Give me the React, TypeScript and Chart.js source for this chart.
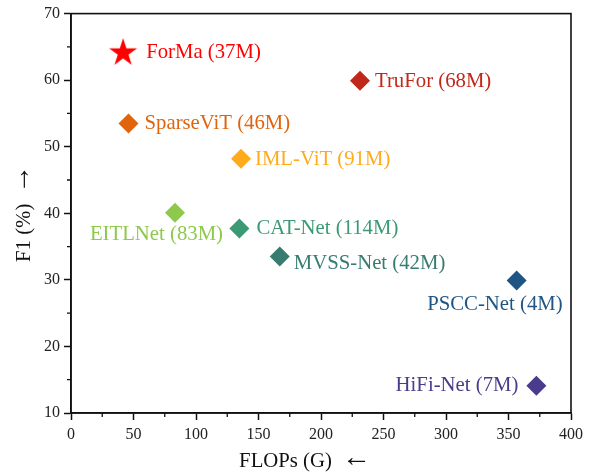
import React, { useEffect, useRef } from 'react';
import { Chart, registerables } from 'chart.js';

Chart.register(...registerables);

// ---- data ----
const models = [
  'ForMa (37M)',
  'TruFor (68M)',
  'SparseViT (46M)',
  'IML-ViT (91M)',
  'EITLNet (83M)',
  'CAT-Net (114M)',
  'MVSS-Net (42M)',
  'PSCC-Net (4M)',
  'HiFi-Net (7M)',
];
const flops = [41.7, 231.2, 46.0, 136.0, 83.2, 134.7, 167.0, 356.5, 372.3];
const f1 = [64.1, 59.9, 53.5, 48.2, 40.1, 37.7, 33.5, 29.9, 14.1];
const xTickValues = [0, 50, 100, 150, 200, 250, 300, 350, 400];
const yTickValues = [10, 20, 30, 40, 50, 60, 70];
const xTitle = 'FLOPs (G)';
const xArrow = '\u2190';
const yTitle = 'F1 (%)';
const yArrow = '\u2192';

// ---- styles ----
const colors = ['#ff0000', '#c0281a', '#df640c', '#ffab1c', '#8dc94c', '#3b9a74', '#387b70', '#1f5585', '#4a3b8c'];
const labelOffsets: [number, number, CanvasTextAlign][] = [
  [23, 0, 'left'],
  [15, 1, 'left'],
  [16, 0, 'left'],
  [14, 1, 'left'],
  [48, 22, 'right'],
  [17, 0, 'left'],
  [14, 7, 'left'],
  [46, 24, 'right'],
  [-18, 0, 'right'],
];
const FONT = '"Liberation Serif", "Times New Roman", serif';
const ARROW_FONT = '"Liberation Serif", serif';
const ARROW_SIZE = 29;

function makeStar(color: string): HTMLCanvasElement {
  const R = 14.7;
  const r = R * 0.382;
  const size = 32;
  const c = document.createElement('canvas');
  c.width = size;
  c.height = size;
  const ctx = c.getContext('2d')!;
  const cx = size / 2;
  const cy = size / 2;
  ctx.beginPath();
  for (let i = 0; i < 10; i++) {
    const rad = i % 2 === 0 ? R : r;
    const a = -Math.PI / 2 + (i * Math.PI) / 5;
    const px = cx + rad * Math.cos(a);
    const py = cy + rad * Math.sin(a);
    if (i === 0) ctx.moveTo(px, py);
    else ctx.lineTo(px, py);
  }
  ctx.closePath();
  ctx.fillStyle = color;
  ctx.fill();
  return c;
}

function drawTitleWithArrow(ctx: CanvasRenderingContext2D, text: string, arrow: string, cx: number, cy: number) {
  const gap = 10;
  ctx.font = `20.75px ${FONT}`;
  const tw = ctx.measureText(text).width;
  ctx.font = `${ARROW_SIZE}px ${ARROW_FONT}`;
  const aw = ctx.measureText(arrow).width;
  const total = tw + gap + aw;
  const x0 = cx - total / 2;
  ctx.textAlign = 'left';
  ctx.textBaseline = 'middle';
  ctx.font = `20.75px ${FONT}`;
  ctx.fillText(text, x0, cy);
  ctx.font = `${ARROW_SIZE}px ${ARROW_FONT}`;
  ctx.fillText(arrow, x0 + tw + gap, cy - 4);
}

export default function App() {
  const ref = useRef<HTMLCanvasElement>(null);

  useEffect(() => {
    const canvas = ref.current;
    if (!canvas) return;
    const star = makeStar(colors[0]);

    const labelPlugin = {
      id: 'pointLabels',
      afterDatasetsDraw(chart: any) {
        const ctx = chart.ctx;
        ctx.save();
        ctx.font = `20.75px ${FONT}`;
        ctx.textBaseline = 'middle';
        chart.data.datasets.forEach((ds: any, i: number) => {
          const meta = chart.getDatasetMeta(i);
          const pt = meta.data[0];
          if (!pt) return;
          const [dx, dy, align] = labelOffsets[i];
          ctx.fillStyle = colors[i];
          ctx.textAlign = align;
          ctx.fillText(models[i], pt.x + dx, pt.y + dy);
        });
        ctx.restore();
      },
    };

    const framePlugin = {
      id: 'frame',
      afterDraw(chart: any) {
        const { ctx, chartArea: a, scales } = chart;
        ctx.save();
        ctx.strokeStyle = '#111';
        ctx.lineWidth = 1.6;
        ctx.strokeRect(a.left, a.top, a.right - a.left, a.bottom - a.top);
        // minor ticks
        ctx.lineWidth = 1.3;
        ctx.beginPath();
        for (let i = 0; i < xTickValues.length - 1; i++) {
          const v = (xTickValues[i] + xTickValues[i + 1]) / 2;
          const px = scales.x.getPixelForValue(v);
          ctx.moveTo(px, a.bottom);
          ctx.lineTo(px, a.bottom + 4);
        }
        for (let i = 0; i < yTickValues.length - 1; i++) {
          const v = (yTickValues[i] + yTickValues[i + 1]) / 2;
          const py = scales.y.getPixelForValue(v);
          ctx.moveTo(a.left, py);
          ctx.lineTo(a.left - 4, py);
        }
        ctx.stroke();
        // axis titles
        ctx.fillStyle = '#111';
        drawTitleWithArrow(ctx, xTitle, xArrow, (a.left + a.right) / 2 - 16, 462);
        ctx.translate(25, (a.top + a.bottom) / 2);
        ctx.rotate(-Math.PI / 2);
        drawTitleWithArrow(ctx, yTitle, yArrow, 0, 0);
        ctx.restore();
      },
    };

    const datasets = models.map((m, i) => ({
      label: m,
      data: [{ x: flops[i], y: f1[i] }],
      pointStyle: i === 0 ? (star as any) : 'rectRot',
      pointRadius: 10,
      pointHoverRadius: 10,
      backgroundColor: colors[i],
      borderColor: colors[i],
      borderWidth: 0,
    }));

    const chart = new Chart(canvas, {
      type: 'scatter',
      data: { datasets },
      options: {
        responsive: false,
        animation: false,
        events: [],
        layout: { padding: { top: 10, right: 29, left: 0, bottom: 0 } },
        plugins: {
          legend: { display: false },
          tooltip: { enabled: false },
        },
        scales: {
          x: {
            type: 'linear',
            min: 0,
            max: 400,
            afterBuildTicks: (scale: any) => {
              scale.ticks = xTickValues.map((v) => ({ value: v }));
            },
            afterFit: (scale: any) => {
              scale.height = 60;
            },
            ticks: {
              color: '#222',
              font: { family: FONT, size: 16 },
              padding: 5,
              maxRotation: 0,
              autoSkip: false,
            },
            grid: {
              drawOnChartArea: false,
              drawTicks: true,
              tickLength: 7,
              tickColor: '#111',
              tickWidth: 1.5,
            },
            border: { display: true, color: '#111', width: 1.6 },
          },
          y: {
            type: 'linear',
            min: 10,
            max: 70,
            afterBuildTicks: (scale: any) => {
              scale.ticks = yTickValues.map((v) => ({ value: v }));
            },
            afterFit: (scale: any) => {
              scale.width = 71;
            },
            ticks: {
              color: '#222',
              font: { family: FONT, size: 16 },
              padding: 4,
              autoSkip: false,
            },
            grid: {
              drawOnChartArea: false,
              drawTicks: true,
              tickLength: 7,
              tickColor: '#111',
              tickWidth: 1.5,
            },
            border: { display: true, color: '#111', width: 1.6 },
          },
        },
      },
      plugins: [labelPlugin, framePlugin],
    });

    return () => {
      chart.destroy();
    };
  }, []);

  return (
    <div style={{ position: 'fixed', left: 0, top: 0, width: 600, height: 473, background: '#fff' }}>
      <canvas ref={ref} width={600} height={473} style={{ display: 'block', width: 600, height: 473 }} />
    </div>
  );
}
